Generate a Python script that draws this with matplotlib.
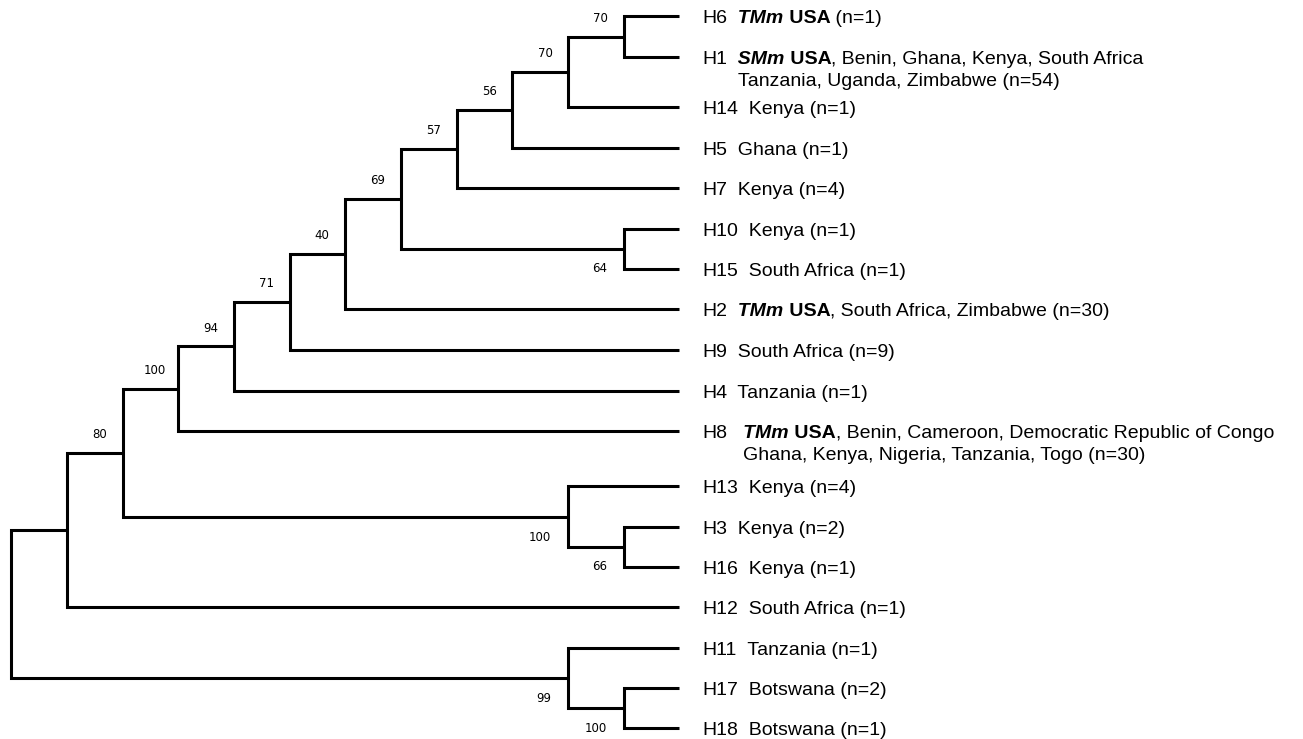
import re
import matplotlib
matplotlib.use("Agg")
import matplotlib.pyplot as plt
from matplotlib.transforms import IdentityTransform

# 叶节点（单倍型）及其纵向位置
leaf_names = ["H6", "H1", "H14", "H5", "H7", "H10", "H15", "H2", "H9",
              "H4", "H8", "H13", "H3", "H16", "H12", "H11", "H17", "H18"]
leaf_rows = [16, 57, 107, 148, 188, 229, 269, 309, 350,
             391, 431, 486, 527, 567, 607, 648, 688, 728]

# 标签文本: {..} 粗斜体, [..] 粗体, \n 换行
leaf_text = [
    "  {TMm} [USA] (n=1)",
    "  {SMm} [USA], Benin, Ghana, Kenya, South Africa\nTanzania, Uganda, Zimbabwe (n=54)",
    "  Kenya (n=1)",
    "  Ghana (n=1)",
    "  Kenya (n=4)",
    "  Kenya (n=1)",
    "  South Africa (n=1)",
    "  {TMm} [USA], South Africa, Zimbabwe (n=30)",
    "  South Africa (n=9)",
    "  Tanzania (n=1)",
    "   {TMm} [USA], Benin, Cameroon, Democratic Republic of Congo\nGhana, Kenya, Nigeria, Tanzania, Togo (n=30)",
    "  Kenya (n=4)",
    "  Kenya (n=2)",
    "  Kenya (n=1)",
    "  South Africa (n=1)",
    "  Tanzania (n=1)",
    "  Botswana (n=2)",
    "  Botswana (n=1)",
]

# 内部节点: 名称, 子节点, 层级(距根), 自展值, 标注位置
node_names = ["n1", "n2", "n3", "n4", "n5", "n6", "n7", "n8", "n9", "n10",
              "n11", "n12", "n13", "n14", "n15", "n16", "root"]
node_children = [("H6", "H1"), ("n1", "H14"), ("n2", "H5"), ("n3", "H7"),
                 ("H10", "H15"), ("n4", "n5"), ("n6", "H2"), ("n7", "H9"),
                 ("n8", "H4"), ("n9", "H8"), ("H3", "H16"), ("H13", "n11"),
                 ("n10", "n12"), ("n13", "H12"), ("H17", "H18"),
                 ("H11", "n15"), ("n14", "n16")]
node_level = [11, 10, 9, 8, 11, 7, 6, 5, 4, 3, 11, 10, 2, 1, 11, 10, 0]
node_support = [70, 70, 56, 57, 64, 69, 40, 71, 94, 100,
                66, 100, 80, None, 100, 99, None]
node_label_side = ["above", "above", "above", "above", "below", "above",
                   "above", "above", "above", "above", "below", "below",
                   "above", None, "below", "below", None]

TIP_LEVEL = 12
LABEL_FONT = "Liberation Sans"
LABEL_SIZE = 14
LINE_GAP = 22
SUPPORT_FONT = "DejaVu Sans"
SUPPORT_SIZE = 8.5
LW = 2.2

fig = plt.figure(figsize=(13.03, 7.39), dpi=100)
ax = fig.add_axes([0, 0, 1, 1])
ax.set_xlim(-0.2, 23.2)
ax.set_ylim(739, 0)
ax.axis("off")

# 计算节点位置并画枝
pos_x = {n: TIP_LEVEL for n in leaf_names}
pos_y = dict(zip(leaf_names, leaf_rows))
parent = {}
for name, kids, lvl in zip(node_names, node_children, node_level):
    a, b = kids
    pos_x[name] = lvl
    pos_y[name] = (pos_y[a] + pos_y[b]) / 2
    parent[a] = name
    parent[b] = name
    ax.plot([pos_x[a], lvl, lvl, pos_x[b]],
            [pos_y[a], pos_y[a], pos_y[b], pos_y[b]],
            color="black", lw=LW, solid_joinstyle="miter",
            solid_capstyle="butt")

# 自展值
for name, kids, sup, side in zip(node_names, node_children,
                                 node_support, node_label_side):
    if sup is None:
        continue
    if side == "above":
        mid = (pos_x[parent[name]] + pos_x[name]) / 2
        ax.annotate(str(sup), xy=(mid, pos_y[name]), xytext=(3.5, 13),
                    textcoords="offset points", ha="center", va="center",
                    fontsize=SUPPORT_SIZE, family=SUPPORT_FONT)
    else:
        low = kids[1]
        dy = 0 if low in leaf_names else 6.5
        ax.annotate(str(sup), xy=(pos_x[name], pos_y[low]), xytext=(-12, dy),
                    textcoords="offset points", ha="right", va="center",
                    fontsize=SUPPORT_SIZE, family=SUPPORT_FONT)

# 叶标签（混合字体样式）
renderer = fig.canvas.get_renderer()


def split_pieces(line):
    pieces = []
    pending = ""
    for part in re.split(r"(\{[^}]*\}|\[[^\]]*\])", line):
        if not part:
            continue
        if part.startswith("{"):
            txt, kw = part[1:-1], dict(fontweight="bold", fontstyle="italic")
        elif part.startswith("["):
            txt, kw = part[1:-1], dict(fontweight="bold")
        else:
            txt, kw = part, {}
        if txt.strip() == "":
            pending += txt
            continue
        pieces.append((pending + txt, kw))
        pending = ""
    return pieces


def put(x, y, txt, kw):
    t = fig.text(x, y, txt, transform=IdentityTransform(), ha="left",
                 va="baseline", fontsize=LABEL_SIZE, family=LABEL_FONT, **kw)
    return t, t.get_window_extent(renderer)


for name, row, text in zip(leaf_names, leaf_rows, leaf_text):
    x0, yc = ax.transData.transform((TIP_LEVEL, row))
    x = x0 + 23
    y = yc - 7
    _, ext = put(x, y, name, {})
    x = ext.x1
    lines = text.split("\n")
    content_x = None
    for i, piece in enumerate(split_pieces(lines[0])):
        txt, kw = piece
        t, ext = put(x, y, txt, kw)
        if i == 0:
            tmp, ext2 = put(0, 0, txt.lstrip(), kw)
            content_x = ext.x1 - ext2.width
            tmp.remove()
        x = ext.x1
    for k, line in enumerate(lines[1:], start=1):
        x = content_x
        for txt, kw in split_pieces(line):
            _, ext = put(x, y - LINE_GAP * k, txt, kw)
            x = ext.x1

fig.savefig("out.png", dpi=100)
